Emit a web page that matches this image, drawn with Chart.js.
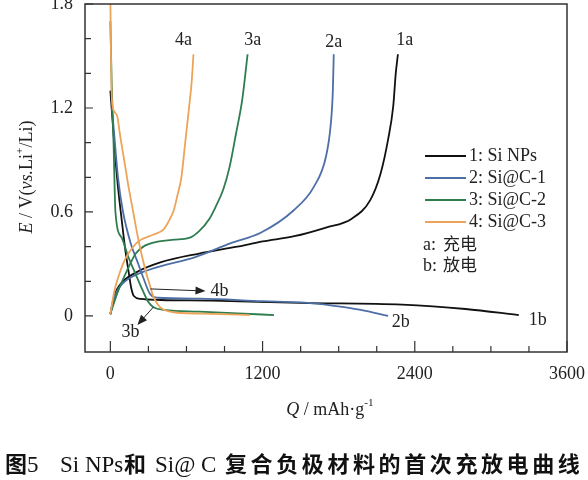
<!DOCTYPE html>
<html>
<head>
<meta charset="utf-8">
<script src="https://cdn.jsdelivr.net/npm/chart.js@4"></script>
<style>
    html, body { margin: 0; padding: 0; background: #fff; }
    #wrap { position: relative; width: 588px; height: 480px; }
    #caption { position: absolute; left: 5px; top: 446px; width: 590px; display: flex; align-items: baseline; color: #111; white-space: nowrap; }
    #caption span { flex-shrink: 0; }
    .cjk { font-family: "Noto Sans CJK SC"; font-weight: bold; font-size: 22px; }
    .lat { font-family: "Liberation Serif"; font-size: 23px; }
</style>
</head>
<body>
<div id="wrap">
    <canvas id="chart"></canvas>
    <div id="caption">
        <span class="cjk" style="width:22px">图</span>
        <span class="lat" style="width:33px">5</span>
        <span class="lat" style="width:64px">Si NPs</span>
        <span class="cjk" style="width:31px">和</span>
        <span class="lat" style="width:70px">Si@ C</span>
        <span class="cjk" style="letter-spacing:3.6px">复合负极材料的首次充放电曲线</span>
    </div>
</div>
<script>
// Q (mAh/g), E (V)
const siCharge = [[0,0.01],[20,0.08],[50,0.15],[100,0.2],[200,0.25],[400,0.31],[700,0.36],[1000,0.4],[1200,0.43],[1450,0.46],[1700,0.51],[1900,0.56],[2050,0.67],[2130,0.82],[2190,1.02],[2230,1.21],[2250,1.4],[2267,1.51]];
const siDischarge = [[0,1.3],[30,1.0],[55,0.78],[90,0.55],[118,0.38],[145,0.25],[165,0.16],[185,0.115],[240,0.098],[400,0.092],[800,0.088],[1500,0.075],[2300,0.065],[2800,0.04],[3220,0.005]];
const c1Charge = [[0,0.01],[20,0.08],[50,0.14],[100,0.19],[300,0.265],[670,0.34],[950,0.42],[1185,0.48],[1446,0.61],[1604,0.745],[1700,0.92],[1738,1.11],[1754,1.3],[1761,1.51]];
const c1Discharge = [[12,1.2],[30,1.05],[60,0.8],[100,0.6],[160,0.42],[220,0.3],[270,0.2],[310,0.13],[370,0.105],[700,0.1],[1200,0.085],[1500,0.078],[1750,0.06],[1975,0.035],[2190,0.0]];
const c2Charge = [[0,0.01],[30,0.08],[70,0.16],[130,0.26],[200,0.36],[260,0.4],[350,0.425],[500,0.44],[620,0.45],[700,0.49],[780,0.56],[830,0.63],[890,0.73],[940,0.86],[990,1.05],[1040,1.25],[1082,1.51]];
const c2Discharge = [[0,1.7],[10,1.35],[25,1.0],[40,0.6],[90,0.45],[142,0.34],[200,0.24],[253,0.15],[300,0.08],[340,0.05],[430,0.035],[700,0.025],[1000,0.015],[1290,0.005]];
const c3Charge = [[0,0.01],[20,0.1],[40,0.17],[63,0.225],[100,0.3],[142,0.36],[221,0.43],[340,0.47],[420,0.5],[470,0.56],[500,0.61],[530,0.7],[560,0.8],[590,1.0],[620,1.2],[642,1.36],[655,1.51]];
const c3Discharge = [[0,1.82],[5,1.5],[12,1.25],[30,1.18],[55,1.15],[75,1.05],[95,0.96],[120,0.85],[142,0.75],[180,0.6],[221,0.44],[276,0.265],[310,0.18],[340,0.11],[380,0.06],[411,0.04],[513,0.02],[800,0.012],[1100,0.005]];

const seriesNames = ['1: Si NPs', '2: Si@C-1', '3: Si@C-2', '4: Si@C-3'];
const seriesColors = ['#111111', '#4d6fa6', '#2d7d4f', '#eda458'];
const xTicks = [0, 1200, 2400, 3600];
const yTicks = [0, 0.6, 1.2, 1.8];
const curveLabels = [
    ['4a', 577, 1.59], ['3a', 1122, 1.59], ['2a', 1762, 1.58], ['1a', 2320, 1.59],
    ['1b', 3370, -0.023], ['2b', 2290, -0.035], ['4b', 860, 0.145], ['3b', 158, -0.092]
];
const arrows = [[316, 0.156, 750, 0.144], [340, 0.052, 213, -0.052]];

const serif = '"Liberation Serif", "DejaVu Serif", serif';
const toPts = arr => arr.map(p => ({x: p[0], y: p[1]}));
const curves = [[siCharge, siDischarge], [c1Charge, c1Discharge], [c2Charge, c2Discharge], [c3Charge, c3Discharge]];
const datasets = [];
curves.forEach((pair, i) => {
    pair.forEach(d => datasets.push({
        data: toPts(d),
        borderColor: seriesColors[i],
        borderWidth: 1.8,
        pointRadius: 0,
        showLine: true,
        cubicInterpolationMode: 'monotone',
        fill: false
    }));
});
datasets.reverse();

// draws a row of text pieces {t, italic, sup}
function drawPieces(ctx, pieces, size) {
    let w = 0;
    pieces.forEach(p => {
        ctx.font = (p.italic ? 'italic ' : '') + (p.sup ? size * 0.62 : size) + 'px ' + serif;
        p.w = ctx.measureText(p.t).width;
        w += p.w;
    });
    let x = -w / 2;
    pieces.forEach(p => {
        ctx.font = (p.italic ? 'italic ' : '') + (p.sup ? size * 0.62 : size) + 'px ' + serif;
        ctx.fillText(p.t, x, p.sup ? -size * 0.38 : 0);
        x += p.w;
    });
}

const decor = {
    id: 'decor',
    afterDraw(chart) {
        const ctx = chart.ctx;
        const a = chart.chartArea;
        const xs = chart.scales.x, ys = chart.scales.y;
        ctx.save();
        ctx.strokeStyle = '#333';
        ctx.lineWidth = 1.5;
        ctx.strokeRect(a.left, a.top, a.right - a.left, a.bottom - a.top);
        ctx.lineWidth = 1.2;
        ctx.beginPath();
        for (let v = 0; v <= 3600; v += 300) {
            const px = xs.getPixelForValue(v);
            ctx.moveTo(px, a.bottom);
            ctx.lineTo(px, a.bottom - (v % 1200 === 0 ? 11 : 6));
        }
        for (let k = 0; k <= 9; k++) {
            const py = ys.getPixelForValue(k * 0.2);
            ctx.moveTo(a.left, py);
            ctx.lineTo(a.left + (k % 3 === 0 ? 8 : 6), py);
        }
        ctx.stroke();

        // curve labels and arrows
        ctx.fillStyle = '#222';
        ctx.font = '18px ' + serif;
        ctx.textAlign = 'center';
        ctx.textBaseline = 'middle';
        curveLabels.forEach(l => ctx.fillText(l[0], xs.getPixelForValue(l[1]), ys.getPixelForValue(l[2])));
        ctx.strokeStyle = '#222';
        ctx.lineWidth = 1;
        arrows.forEach(r => {
            const x1 = xs.getPixelForValue(r[0]), y1 = ys.getPixelForValue(r[1]);
            const x2 = xs.getPixelForValue(r[2]), y2 = ys.getPixelForValue(r[3]);
            const ang = Math.atan2(y2 - y1, x2 - x1);
            ctx.beginPath();
            ctx.moveTo(x1, y1);
            ctx.lineTo(x2 - 8 * Math.cos(ang), y2 - 8 * Math.sin(ang));
            ctx.stroke();
            ctx.beginPath();
            ctx.moveTo(x2, y2);
            ctx.lineTo(x2 - 10 * Math.cos(ang) + 4 * Math.sin(ang), y2 - 10 * Math.sin(ang) - 4 * Math.cos(ang));
            ctx.lineTo(x2 - 10 * Math.cos(ang) - 4 * Math.sin(ang), y2 - 10 * Math.sin(ang) + 4 * Math.cos(ang));
            ctx.closePath();
            ctx.fill();
        });

        // legend
        ctx.textAlign = 'left';
        seriesNames.forEach((n, i) => {
            const y = 156 + i * 22;
            ctx.strokeStyle = seriesColors[i];
            ctx.lineWidth = 1.8;
            ctx.beginPath();
            ctx.moveTo(425, y);
            ctx.lineTo(466, y);
            ctx.stroke();
            ctx.fillStyle = '#222';
            ctx.font = '18px ' + serif;
            ctx.fillText(n, 469, y);
        });
        ctx.font = '18px ' + serif;
        ctx.fillText('a:', 423, 245);
        ctx.fillText('b:', 423, 266);
        ctx.font = '17px "Noto Sans CJK SC"';
        ctx.fillText('充电', 443, 244);
        ctx.fillText('放电', 443, 265);

        // axis titles
        ctx.textAlign = 'left';
        ctx.textBaseline = 'middle';
        ctx.fillStyle = '#222';
        ctx.save();
        ctx.translate(330, 410);
        drawPieces(ctx, [{t: 'Q', italic: true}, {t: ' / mAh·g'}, {t: '-1', sup: true}], 18);
        ctx.restore();
        ctx.save();
        ctx.translate(27, 177);
        ctx.rotate(-Math.PI / 2);
        drawPieces(ctx, [{t: 'E', italic: true}, {t: ' / V('}, {t: 'vs.', italic: true}, {t: 'Li'}, {t: '+', sup: true}, {t: '/Li)'}], 18);
        ctx.restore();
        ctx.restore();
    }
};

new Chart(document.getElementById('chart'), {
    type: 'scatter',
    data: {datasets: datasets},
    options: {
        responsive: true,
        maintainAspectRatio: false,
        animation: false,
        layout: {padding: {left: 0, top: 4, right: 21, bottom: 0}},
        plugins: {legend: {display: false}, tooltip: {enabled: false}},
        scales: {
            x: {
                type: 'linear',
                min: -200,
                max: 3600,
                grid: {display: false, drawTicks: false},
                border: {display: false},
                afterBuildTicks: s => { s.ticks = xTicks.map(v => ({value: v})); },
                afterFit: s => { s.height = 128; s.paddingLeft = 0; s.paddingRight = 0; },
                ticks: {color: '#222', padding: 11, maxRotation: 0, font: {family: serif, size: 18}, callback: v => String(v)}
            },
            y: {
                type: 'linear',
                min: -0.208,
                max: 1.8,
                grid: {display: false, drawTicks: false},
                border: {display: false},
                afterBuildTicks: s => { s.ticks = yTicks.map(v => ({value: v})); },
                afterFit: s => { s.width = 85; s.paddingTop = 0; s.paddingBottom = 0; },
                ticks: {color: '#222', padding: 12, font: {family: serif, size: 18}, callback: v => String(v)}
            }
        }
    },
    plugins: [decor]
});
</script>
</body>
</html>
